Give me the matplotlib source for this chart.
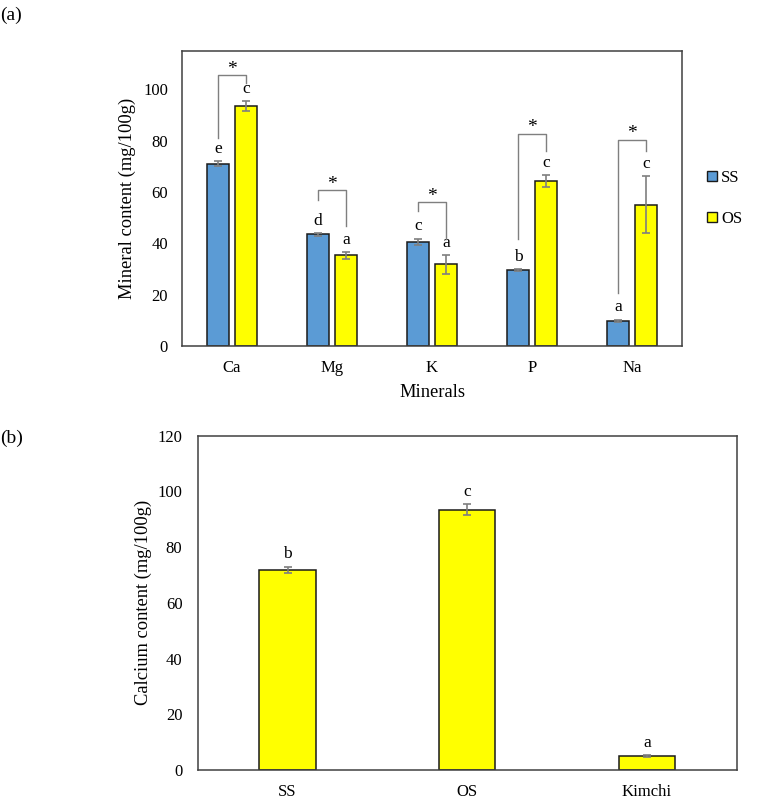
import matplotlib
matplotlib.use("Agg")
import matplotlib.pyplot as plt
import numpy as np
from matplotlib.patches import Patch

plt.rcParams['font.family'] = ['Liberation Serif', 'DejaVu Serif']

# ---------------- data: panel (a) ----------------
minerals = ["Ca", "Mg", "K", "P", "Na"]
ss_vals = [71.1, 43.5, 40.6, 29.6, 9.9]
ss_err = [1.0, 0.5, 1.3, 0.3, 0.4]
os_vals = [93.5, 35.3, 31.8, 64.4, 55.1]
os_err = [2.0, 1.2, 3.7, 2.3, 11.0]
ss_letters = ["e", "d", "c", "b", "a"]
os_letters = ["c", "a", "a", "c", "c"]
# significance brackets: (left leg bottom, top, right leg bottom)
br_left = [80.9, 57.0, 52.5, 41.8, 20.6]
br_top = [105.5, 60.7, 56.1, 82.7, 80.5]
br_right = [102.7, 46.6, 41.8, 76.2, 76.2]

# ---------------- data: panel (b) ----------------
samples = ["SS", "OS", "Kimchi"]
ca_vals = [71.9, 93.4, 5.1]
ca_err = [1.1, 2.0, 0.3]
ca_letters = ["b", "c", "a"]

BLUE = "#5B9BD5"
YELLOW = "#FFFF00"
GREY = "#7F7F7F"
SPINE = "#404040"

W, H = 757, 808
fig = plt.figure(figsize=(W / 100, H / 100), dpi=100)

def fbox(l, t, r, b):
    return [l / W, 1 - b / H, (r - l) / W, (b - t) / H]

# ---------------- panel (a) ----------------
ax = fig.add_axes(fbox(182, 51, 682, 346))
x = np.arange(len(minerals))
bw = 0.225
off = 0.14
ekw = dict(ecolor=GREY, elinewidth=1.2, capsize=3, capthick=1.2)
ax.bar(x - off, ss_vals, bw, color=BLUE, edgecolor="#1a1a1a", linewidth=1.1,
       yerr=ss_err, error_kw=ekw, label="SS", zorder=2)
ax.bar(x + off, os_vals, bw, color=YELLOW, edgecolor="#1a1a1a", linewidth=1.1,
       yerr=os_err, error_kw=ekw, label="OS", zorder=2)

for i in range(len(minerals)):
    ax.annotate(ss_letters[i], (x[i] - off, ss_vals[i] + ss_err[i]),
                xytext=(0, 6), textcoords="offset points", ha="center",
                va="baseline", fontsize=12.5)
    ax.annotate(os_letters[i], (x[i] + off, os_vals[i] + os_err[i]),
                xytext=(0, 6), textcoords="offset points", ha="center",
                va="baseline", fontsize=12.5)
    ax.plot([x[i] - off, x[i] - off, x[i] + off, x[i] + off],
            [br_left[i], br_top[i], br_top[i], br_right[i]],
            color=GREY, lw=1.0, zorder=3)
    ax.text(x[i], br_top[i] + 0.6, "*", ha="center", va="baseline", fontsize=14)

ax.set_xlim(-0.5, len(minerals) - 0.5)
ax.set_ylim(0, 115)
ax.set_yticks([0, 20, 40, 60, 80, 100])
ax.set_xticks(x)
ax.set_xticklabels(minerals)
ax.tick_params(axis="both", length=0, labelsize=12)
ax.tick_params(axis="x", pad=10)
ax.tick_params(axis="y", pad=10)
ax.set_xlabel("Minerals", fontsize=13.3, labelpad=6)
ax.set_ylabel("Mineral content (mg/100g)", fontsize=13.3, labelpad=5)
for s in ax.spines.values():
    s.set_color(SPINE)
    s.set_linewidth(1.1)

handles = [Patch(facecolor=BLUE, edgecolor="#1a1a1a", linewidth=1.0, label="SS"),
           Patch(facecolor=YELLOW, edgecolor="#1a1a1a", linewidth=1.0, label="OS")]
ax.legend(handles=handles, loc="center left", bbox_to_anchor=(1.05, 0.5),
          frameon=False, fontsize=12, handlelength=0.6, handleheight=0.6,
          handletextpad=0.25, labelspacing=1.5, borderpad=0, borderaxespad=0)

fig.text(0 / W, 1 - 15 / H, "(a)", fontsize=14, ha="left", va="center")

# ---------------- panel (b) ----------------
bx = fig.add_axes(fbox(197.7, 435.7, 736.7, 770))
xb = np.arange(len(samples))
bx.bar(xb, ca_vals, 0.313, color=YELLOW, edgecolor="#1a1a1a", linewidth=1.1,
       yerr=ca_err, error_kw=ekw, zorder=2)
for i in range(len(samples)):
    bx.annotate(ca_letters[i], (xb[i], ca_vals[i] + ca_err[i]),
                xytext=(0, 6), textcoords="offset points", ha="center",
                va="baseline", fontsize=12.5)
bx.set_xlim(-0.5, len(samples) - 0.5)
bx.set_ylim(0, 120)
bx.set_yticks([0, 20, 40, 60, 80, 100, 120])
bx.set_xticks(xb)
bx.set_xticklabels(samples)
bx.tick_params(axis="both", length=0, labelsize=12)
bx.tick_params(axis="x", pad=10)
bx.tick_params(axis="y", pad=11)
bx.set_ylabel("Calcium content (mg/100g)", fontsize=13.3, labelpad=4)
for s in bx.spines.values():
    s.set_color(SPINE)
    s.set_linewidth(1.1)

fig.text(0 / W, 1 - 438 / H, "(b)", fontsize=14, ha="left", va="center")

fig.savefig("out.png", dpi=100)
